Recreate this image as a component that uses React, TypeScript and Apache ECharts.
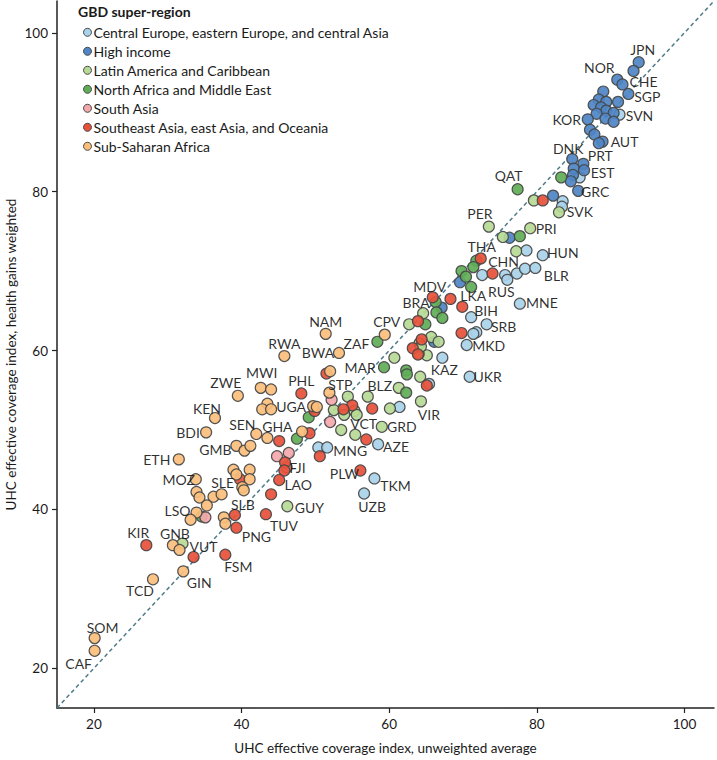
import { useEffect, useRef } from "react";
import * as echarts from "echarts";

type Pt = [number, number, string];

const REGIONS = [
  "Central Europe, eastern Europe, and central Asia",
  "High income",
  "Latin America and Caribbean",
  "North Africa and Middle East",
  "South Asia",
  "Southeast Asia, east Asia, and Oceania",
  "Sub-Saharan Africa",
];
const COLORS = ["#a9d3ea", "#4e86c6", "#b6da95", "#5fae57", "#f4a8ab", "#e8503a", "#fbbf7c"];

const X_TICKS = [20, 40, 60, 80, 100];
const Y_TICKS = [20, 40, 60, 80, 100];
const X_NAME = "UHC effective coverage index, unweighted average";
const Y_NAME = "UHC effective coverage index, health gains weighted";
const LEGEND_TITLE = "GBD super-region";

const centralEurope: Pt[] = [
  [85.8, 81.8, "EST"], [83.5, 78.8, ""], [83.4, 78.1, "SVK"], [78.6, 72.6, ""], [80.8, 72.0, "HUN"],
  [72.6, 69.5, ""], [75.7, 69.5, ""], [76.0, 68.9, "RUS"], [77.3, 69.7, ""], [78.4, 70.3, ""],
  [79.8, 70.4, "BLR"], [77.7, 65.9, "MNE"], [71.1, 64.2, "BIH"], [73.2, 63.3, "SRB"], [71.8, 62.3, ""],
  [71.4, 62.1, ""], [70.5, 60.7, "MKD"], [67.2, 59.1, "KAZ"], [65.4, 55.8, ""], [70.9, 56.7, "UKR"],
  [61.4, 52.9, ""], [58.5, 48.2, "AZE"], [50.4, 47.8, ""], [51.6, 47.8, "MNG"], [58.0, 43.9, "TKM"],
  [56.6, 42.0, "UZB"], [91.2, 89.7, "SVN"],
];

const highIncome: Pt[] = [
  [93.8, 96.3, "JPN"], [93.1, 95.2, ""], [90.9, 94.1, "NOR"], [91.6, 93.5, "CHE"], [92.4, 92.3, "SGP"],
  [89.0, 92.6, ""], [88.4, 91.6, ""], [89.4, 91.3, ""], [91.0, 91.3, ""], [87.7, 90.9, ""],
  [88.7, 90.6, ""], [89.4, 90.2, ""], [90.4, 89.9, ""], [88.1, 89.8, ""], [89.3, 89.2, ""],
  [86.9, 89.1, "KOR"], [90.4, 88.8, ""], [87.2, 87.8, ""], [87.8, 87.2, ""], [88.9, 86.3, "AUT"],
  [88.4, 86.1, ""], [84.8, 84.1, "DNK"], [86.3, 83.5, "PRT"], [85.0, 82.9, ""], [86.4, 82.7, ""],
  [84.9, 82.1, ""], [84.6, 81.3, ""], [85.6, 80.1, "GRC"], [82.2, 79.5, ""], [76.3, 74.2, ""],
  [69.6, 68.6, ""], [67.1, 65.4, ""], [66.1, 61.1, ""],
];

const latinAmerica: Pt[] = [
  [73.5, 75.6, "PER"], [79.1, 75.4, "PRI"], [79.6, 78.9, ""], [83.0, 77.4, ""], [75.4, 74.3, ""],
  [77.2, 72.5, ""], [64.6, 64.7, "BRA"], [62.7, 63.3, ""], [64.1, 60.9, ""], [65.7, 61.7, ""],
  [66.7, 61.1, ""], [65.1, 59.4, ""], [64.0, 59.6, ""], [60.7, 59.1, ""], [64.2, 56.7, ""],
  [57.1, 54.2, "BLZ"], [61.3, 55.3, ""], [64.3, 53.6, "VIR"], [60.1, 52.7, ""], [59.0, 50.4, "GRD"],
  [55.4, 49.4, ""], [53.5, 50.0, ""], [54.4, 54.2, ""], [52.5, 52.5, ""], [55.3, 52.4, ""],
  [53.9, 51.9, ""], [55.6, 51.9, "VCT"], [46.2, 40.4, "GUY"], [32.0, 35.7, ""], [64.3, 60.5, ""],
];

const northAfrica: Pt[] = [
  [77.4, 80.3, "QAT"], [83.3, 81.8, ""], [77.7, 74.4, ""], [71.8, 71.3, ""], [71.4, 70.5, ""],
  [69.8, 70.0, ""], [70.4, 69.3, ""], [71.1, 68.0, ""], [66.3, 66.1, ""], [66.4, 64.8, ""],
  [67.2, 64.1, ""], [64.9, 63.3, ""], [58.4, 61.1, "ZAF"], [59.3, 57.9, "MAR"], [62.3, 57.5, ""],
  [62.4, 57.0, ""], [62.3, 54.7, ""], [49.1, 51.6, ""], [47.5, 48.9, ""], [34.6, 39.1, ""],
];

const southAsia: Pt[] = [
  [52.2, 53.8, ""], [52.0, 51.0, ""], [44.8, 46.7, ""], [46.4, 47.1, ""], [46.1, 45.3, ""], [35.1, 39.0, ""],
];

const southeastAsia: Pt[] = [
  [80.8, 78.9, ""], [72.4, 71.6, "THA"], [74.0, 69.7, "CHN"], [68.3, 66.5, ""], [65.9, 66.7, "MDV"],
  [69.9, 65.5, "LKA"], [63.9, 63.7, ""], [69.8, 62.2, ""], [64.4, 61.4, ""], [63.2, 60.3, ""],
  [63.9, 59.5, ""], [65.1, 55.6, ""], [57.7, 52.7, ""], [55.0, 53.1, ""], [53.8, 52.6, ""],
  [56.9, 48.8, ""], [48.1, 54.6, "PHL"], [51.5, 57.1, ""], [49.9, 52.4, ""], [49.2, 49.6, ""],
  [45.1, 48.6, ""], [50.6, 46.7, ""], [45.9, 45.9, ""], [45.8, 44.9, "FJI"], [45.1, 43.7, "LAO"],
  [44.0, 41.9, ""], [56.1, 44.9, "PLW"], [43.3, 39.4, "TUV"], [39.1, 39.3, "SLB"], [39.3, 37.7, "PNG"],
  [39.8, 43.8, ""], [27.1, 35.5, "KIR"], [33.5, 34.0, "VUT"], [37.8, 34.3, "FSM"],
];

const subSaharan: Pt[] = [
  [59.4, 62.0, "CPV"], [51.4, 62.1, "NAM"], [53.2, 59.7, "BWA"], [45.8, 59.3, "RWA"], [52.0, 57.4, ""],
  [51.9, 54.7, "STP"], [49.7, 53.0, ""], [50.2, 52.9, ""], [42.6, 55.3, "MWI"], [44.0, 55.1, ""],
  [39.5, 54.3, "ZWE"], [43.5, 53.3, ""], [42.8, 52.6, ""], [44.0, 52.6, "UGA"], [36.4, 51.5, "KEN"],
  [35.2, 49.7, "BDI"], [42.0, 49.5, "SEN"], [43.5, 49.0, "GHA"], [48.2, 49.8, ""], [39.3, 48.0, "GMB"],
  [40.4, 47.4, ""], [41.2, 48.0, ""], [31.5, 46.3, "ETH"], [33.8, 43.8, "MOZ"], [38.9, 45.0, ""],
  [41.1, 45.0, ""], [39.3, 44.4, ""], [41.1, 43.8, "SLE"], [40.1, 42.8, ""], [40.3, 42.4, ""],
  [33.9, 42.2, ""], [34.3, 41.5, ""], [36.2, 41.6, ""], [37.3, 41.9, ""], [35.3, 40.5, ""],
  [33.9, 39.6, "LSO"], [33.1, 38.7, ""], [37.6, 39.0, ""], [37.8, 38.2, ""], [30.7, 35.5, "GNB"],
  [31.6, 34.9, ""], [32.1, 32.2, "GIN"], [28.0, 31.2, "TCD"], [20.1, 23.8, "SOM"], [20.1, 22.2, "CAF"],
];

const REGION_DATA: Pt[][] = [centralEurope, highIncome, latinAmerica, northAfrica, southAsia, southeastAsia, subSaharan];

// label placement (pixel offsets from point centre)
const LABEL_OFFSETS: Record<string, [number, number]> = {
  JPN: [4, -13], NOR: [-18, -12], CHE: [21, -3], SGP: [19, 3], SVN: [20, 1], KOR: [-21, 0], AUT: [22, 0],
  DNK: [-4, -11], PRT: [17, -8], EST: [23, -5], GRC: [17, 1], QAT: [-9, -14], SVK: [18, 5], PER: [-9, -13],
  PRI: [16, 0], HUN: [20, -3], THA: [1, -12], CHN: [11, -12], BLR: [21, 8], RUS: [-6, 12], MNE: [22, -1],
  MDV: [-3, -11], LKA: [11, -11], BIH: [15, -7], SRB: [17, 2], BRA: [-7, -11], MKD: [22, 1], CPV: [2, -13],
  ZAF: [-21, 2], MAR: [-24, 0], KAZ: [2, 12], UKR: [18, 0], BLZ: [12, -11], VIR: [8, 13], VCT: [7, 9],
  GRD: [20, 0], MNG: [23, 3], AZE: [18, 2], PLW: [-16, 3], TKM: [21, 7], UZB: [8, 13], FJI: [13, -3],
  LAO: [19, 4], GUY: [22, 1], TUV: [18, 11], PNG: [20, 9], SLB: [8, -10], SLE: [-27, 3], MOZ: [-17, 0],
  LSO: [-19, -2], KIR: [-8, -13], GNB: [2, -12], VUT: [10, -11], FSM: [13, 12], GIN: [16, 11], TCD: [-13, 11],
  SOM: [8, -11], CAF: [-16, 13], ETH: [-22, 0], BDI: [-18, 0], GMB: [-21, 4], SEN: [-14, -9], GHA: [10, -11],
  KEN: [-8, -10], ZWE: [-12, -13], MWI: [1, -15], UGA: [20, -3], PHL: [0, -13], RWA: [0, -13], NAM: [0, -12],
  BWA: [-21, 0], STP: [11, -8],
};

const FONT = "Lato, 'Noto Sans', sans-serif";
const TEXT = "#1a1a1a";

export default function App() {
  const ref = useRef<HTMLDivElement>(null);
  useEffect(() => {
    document.body.style.margin = "0";
    const chart = echarts.init(ref.current!, null, { renderer: "svg" });

    const scatter = (i: number) => ({
      type: "scatter",
      name: REGIONS[i],
      symbol: "circle",
      symbolSize: 11,
      z: 3,
      itemStyle: { color: COLORS[i], borderColor: "#474747", borderWidth: 1.2, opacity: 0.92 },
      label: { show: false },
      emphasis: { disabled: true },
      data: REGION_DATA[i].map((p) => ({
        value: [p[0], p[1]],
        name: p[2],
        label: p[2]
          ? {
              show: true,
              formatter: p[2],
              position: "inside",
              offset: LABEL_OFFSETS[p[2]] ?? [0, 0],
              color: TEXT,
              fontSize: 14,
              lineHeight: 12,
              fontFamily: FONT,
              textBorderWidth: 0,
            }
          : { show: false },
      })),
    });

    const legendGraphics: any[] = [
      {
        type: "text",
        left: 78,
        top: 4,
        style: { text: LEGEND_TITLE, fontSize: 14, fontWeight: "bold", fontFamily: FONT, fill: TEXT },
      },
    ];
    REGIONS.forEach((r, i) => {
      const cy = 32.3 + 19 * i;
      legendGraphics.push({
        type: "circle",
        shape: { cx: 87.5, cy, r: 4 },
        style: { fill: COLORS[i], stroke: "#474747", lineWidth: 1 },
      });
      legendGraphics.push({
        type: "text",
        x: 93.5,
        y: cy,
        style: { text: r, fontSize: 14, fontFamily: FONT, fill: TEXT, verticalAlign: "middle", align: "left" },
      });
    });

    const axisCommon = {
      type: "value",
      min: 15,
      max: 104,
      nameLocation: "middle",
      nameMoveOverlap: false,
      nameTextStyle: { fontSize: 13.5, fontFamily: FONT, color: TEXT },
      axisLine: { show: true, onZero: false, lineStyle: { color: "#222", width: 1.5 } },
      splitLine: { show: false },
    };

    chart.setOption({
      animation: false,
      grid: { left: 57, right: 3, top: 1, bottom: 52, containLabel: false, outerBoundsMode: "none" },
      xAxis: {
        ...axisCommon,
        name: X_NAME,
        nameGap: 33,
        axisTick: { show: true, length: 5, lineStyle: { color: "#222", width: 1.2 }, customValues: X_TICKS },
        axisLabel: { customValues: X_TICKS, fontSize: 13.5, fontFamily: FONT, color: TEXT, margin: 9 },
      },
      yAxis: {
        ...axisCommon,
        name: Y_NAME,
        nameGap: 39,
        axisTick: { show: true, length: 5, lineStyle: { color: "#222", width: 1.2 }, customValues: Y_TICKS },
        axisLabel: { customValues: Y_TICKS, fontSize: 13.5, fontFamily: FONT, color: TEXT, margin: 9 },
      },
      graphic: legendGraphics,
      series: [
        {
          type: "line",
          name: "Line of equality",
          data: [
            [15, 15],
            [104, 104],
          ],
          symbol: "none",
          silent: true,
          z: 1,
          lineStyle: { color: "#4f7b8a", width: 1.5, type: [4, 3] },
        },
        ...REGION_DATA.map((_, i) => scatter(i)),
      ],
    });
    return () => chart.dispose();
  }, []);
  return <div ref={ref} style={{ width: 717, height: 760 }} />;
}
